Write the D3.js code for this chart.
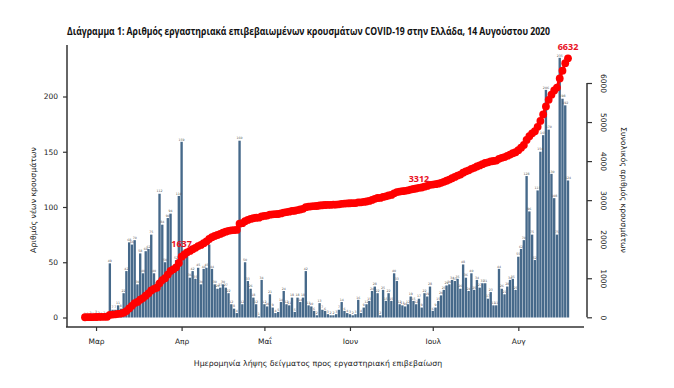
<!DOCTYPE html>
<html><head><meta charset="utf-8">
<script src="https://cdn.jsdelivr.net/npm/d3@7"></script>
<style>body{margin:0;background:#fff}svg{display:block}</style>
</head><body>
<svg id="c" width="674" height="388"></svg>
<script>
const title = "Διάγραμμα 1: Αριθμός εργαστηριακά επιβεβαιωμένων κρουσμάτων COVID-19 στην Ελλάδα, 14 Αυγούστου 2020";
const startDate = new Date(Date.UTC(2020,1,26));
const endDate = new Date(Date.UTC(2020,7,20));
const dailyCases = [
 1,1,2,1,3,2,1,2,1,49,
 7,7,11,8,22,42,68,66,70,30,
 58,40,60,62,75,40,28,112,84,50,
 90,94,42,52,110,159,
 58,57,36,42,35,45,30,44,45,66,
 44,30,26,27,30,27,22,12,8,4,
 160,
 12,50,33,26,18,12,1,34,12,10,
 21,9,4,5,14,24,12,11,18,5,
 18,14,18,42,11,10,6,2,13,7,
 6,3,2,2,3,7,14,6,4,3,
 2,3,16,4,9,12,15,24,28,22,
 2,25,15,22,15,40,33,12,11,10,
 12,19,15,12,17,9,
 22,19,28,6,9,15,20,25,29,30,
 34,33,35,26,48,36,24,40,25,34,
 27,31,31,17,23,11,11,44,26,21,
 28,34,35,25,
 55,62,70,128,96,75,52,115,150,165,
 206,170,130,108,75,235,198,192,124
];
const monthTicks = [new Date(Date.UTC(2020,2,1)),new Date(Date.UTC(2020,3,1)),new Date(Date.UTC(2020,4,1)),new Date(Date.UTC(2020,5,1)),new Date(Date.UTC(2020,6,1)),new Date(Date.UTC(2020,7,1))];
const monthLabels = ["Μαρ","Απρ","Μαΐ","Ιουν","Ιουλ","Αυγ"];
const leftTicks = [0,50,100,150,200];
const rightTicks = [0,1000,2000,3000,4000,5000,6000];
const milestoneDates = [new Date(Date.UTC(2020,3,1)),new Date(Date.UTC(2020,5,26)),new Date(Date.UTC(2020,7,19))];
const milestoneValues = [1637,3312,6632];
const xTitle = "Ημερομηνία λήψης δείγματος προς εργαστηριακή επιβεβαίωση";
const yLeftTitle = "Αριθμός νέων κρουσμάτων";
const yRightTitle = "Συνολικός αριθμός κρουσμάτων";

const dates = d3.utcDay.range(startDate, endDate);
const cumulative = Array.from(d3.cumsum(dailyCases));
const data = dates.map((d,i)=>({date:d, v:dailyCases[i], c:cumulative[i]}));

const svg = d3.select("#c");
const x = d3.scaleUtc().domain([startDate, new Date(Date.UTC(2020,7,19))]).range([85,568]);
const y = d3.scaleLinear().domain([0,200]).range([317.5,96.5]);
const yR = d3.scaleLinear().domain([0,6000]).range([317.3,83]);
const step = x(dates[1]) - x(dates[0]);

const axisCol = "#333";
const font = "DejaVu Sans, sans-serif";

svg.append("text").attr("x",67).attr("y",35).attr("font-family","Open Sans, sans-serif")
  .attr("font-weight",700).attr("font-size",10.5).attr("fill","#111")
  .attr("textLength",483).attr("lengthAdjust","spacingAndGlyphs").text(title);

// bars
svg.append("g").selectAll("rect").data(data).join("rect")
  .attr("x",d=>x(d.date)-step/2+0.2).attr("width",step-0.4)
  .attr("y",d=>y(d.v)).attr("height",d=>y(0)-y(d.v))
  .attr("fill","#46698a");
svg.append("g").selectAll("text").data(data).join("text")
  .attr("x",d=>x(d.date)).attr("y",d=>y(d.v)-1.3).attr("text-anchor","middle")
  .attr("font-family",font).attr("font-size",3.2).attr("fill","#555")
  .text(d=>d.v);

// cumulative line
svg.append("path").datum(data)
  .attr("d",d3.line().x(d=>x(d.date)).y(d=>yR(d.c)))
  .attr("fill","none").attr("stroke","#ff0000").attr("stroke-width",3);
svg.append("g").selectAll("circle").data(data).join("circle")
  .attr("cx",d=>x(d.date)).attr("cy",d=>yR(d.c)).attr("r",3.9).attr("fill","#ff0000");

svg.append("g").selectAll("text").data(milestoneValues).join("text")
  .attr("x",(d,i)=>x(milestoneDates[i])).attr("y",(d,i)=>yR(d)-(i===2?8.5:6))
  .attr("text-anchor","middle").attr("font-family","Open Sans, sans-serif")
  .attr("font-weight",700).attr("font-size",9).attr("fill","#e8101e").text(d=>d);

// left axis
const gL = svg.append("g").attr("transform","translate(67,0)");
gL.call(d3.axisLeft(y).tickValues(leftTicks).tickSize(4).tickPadding(5));
gL.select(".domain").remove();
svg.append("line").attr("x1",67).attr("x2",67).attr("y1",45).attr("y2",327).attr("stroke",axisCol).attr("stroke-width",1.5);
gL.selectAll("line").attr("stroke",axisCol).attr("stroke-width",1.2);
gL.selectAll("text").attr("font-family",font).attr("font-size",7.5).attr("fill","#222");

// right axis
const gR = svg.append("g").attr("transform","translate(587,0)");
gR.call(d3.axisRight(yR).tickValues(rightTicks).tickSize(5).tickFormat(d3.format("d")));
gR.select(".domain").attr("stroke",axisCol).attr("stroke-width",1.5).attr("d","M0,83V317.3");
gR.selectAll("line").attr("stroke",axisCol).attr("stroke-width",1.2);
gR.selectAll("text").attr("font-family",font).attr("font-size",7.5).attr("fill","#222")
  .attr("x",0).attr("dy",0).attr("text-anchor","middle")
  .attr("transform","translate(14,0) rotate(90)");

// bottom axis
const gB = svg.append("g").attr("transform","translate(0,327)");
gB.call(d3.axisBottom(x).tickValues(monthTicks).tickSize(4).tickPadding(8).tickFormat((d,i)=>monthLabels[i]));
gB.select(".domain").remove();
svg.append("line").attr("x1",66).attr("x2",584).attr("y1",327).attr("y2",327).attr("stroke",axisCol).attr("stroke-width",1.5);
gB.selectAll("line").attr("stroke",axisCol).attr("stroke-width",1.2);
gB.selectAll("text").attr("font-family",font).attr("font-size",7.5).attr("fill","#222");

// axis titles
svg.append("text").attr("x",318).attr("y",366).attr("text-anchor","middle")
  .attr("font-family",font).attr("font-size",7.8).attr("fill","#222").text(xTitle);
svg.append("text").attr("transform","translate(36,200) rotate(-90)").attr("text-anchor","middle")
  .attr("font-family",font).attr("font-size",7.8).attr("fill","#222").text(yLeftTitle);
svg.append("text").attr("transform","translate(621,190) rotate(90)").attr("text-anchor","middle")
  .attr("font-family",font).attr("font-size",7.8).attr("fill","#222").text(yRightTitle);
</script>
</body></html>
